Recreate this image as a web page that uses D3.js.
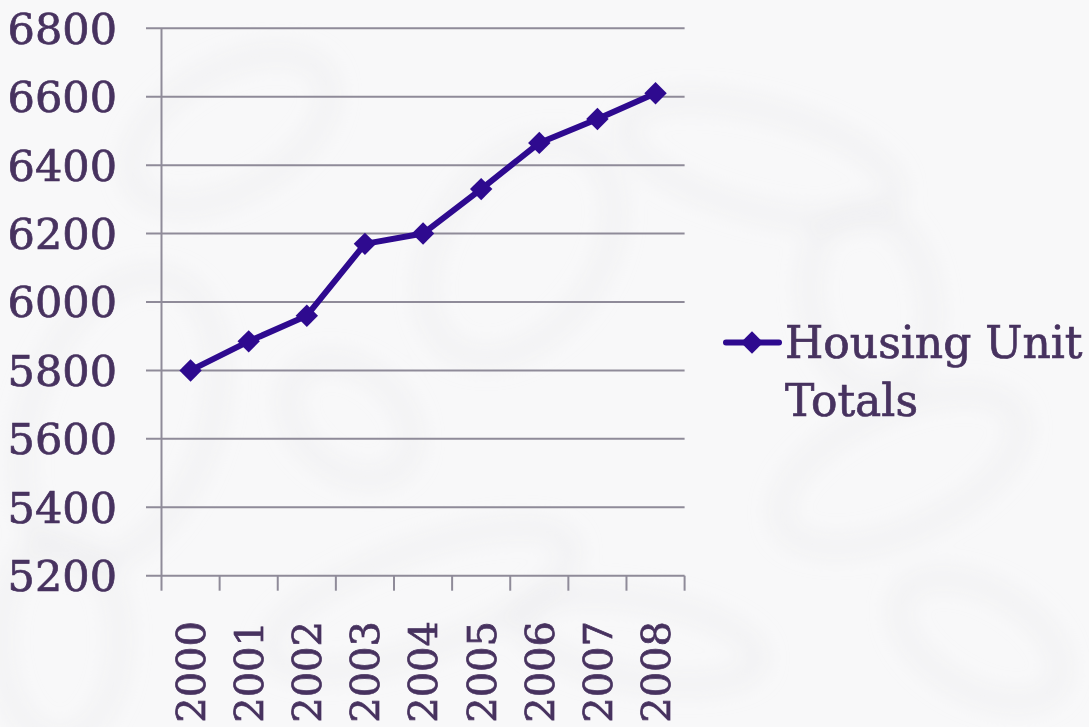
<!DOCTYPE html>
<html>
<head>
<meta charset="utf-8">
<script src="https://cdn.jsdelivr.net/npm/d3@7"></script>
<style>
  html, body { margin: 0; padding: 0; background: #f7f7f8; overflow: hidden; }
  .lbl { font-family: "DejaVu Serif", serif; fill: #47325f; stroke: #47325f; stroke-width: 0.7px; }
</style>
</head>
<body>
<div class="chart"></div>
<script>
var years = ["2000", "2001", "2002", "2003", "2004", "2005", "2006", "2007", "2008"];
var housingUnits = [5800, 5885, 5960, 6170, 6200, 6330, 6465, 6535, 6610];
var yTicks = [5200, 5400, 5600, 5800, 6000, 6200, 6400, 6600, 6800];
var seriesName = ["Housing Unit", "Totals"];

var svgWidth = 1089;
var svgHeight = 727;

var svg = d3.select(".chart")
  .append("svg")
  .attr("width", svgWidth)
  .attr("height", svgHeight);

// faint marbled background
var defs = svg.append("defs");
defs.append("filter").attr("id", "blur")
  .attr("x", "-50%").attr("y", "-50%").attr("width", "200%").attr("height", "200%")
  .append("feGaussianBlur").attr("stdDeviation", 12);

svg.append("rect")
  .attr("width", svgWidth).attr("height", svgHeight)
  .attr("fill", "#f8f8f9");

var blobs = [
  [230, 130, 110, 60, -30], [120, 420, 90, 150, 20], [420, 600, 160, 50, -20],
  [520, 250, 80, 120, 35], [760, 160, 140, 50, 15], [900, 470, 130, 60, -25],
  [640, 640, 120, 40, 10], [980, 640, 90, 50, 30], [60, 640, 60, 100, 0],
  [350, 420, 70, 50, 40], [870, 300, 60, 90, -10]
];
svg.append("g").attr("filter", "url(#blur)")
  .selectAll("ellipse")
  .data(blobs)
  .enter()
  .append("ellipse")
  .attr("transform", d => `translate(${d[0]},${d[1]}) rotate(${d[4]})`)
  .attr("rx", d => d[2])
  .attr("ry", d => d[3])
  .attr("fill", "none")
  .attr("stroke", "#e4e4e7")
  .attr("stroke-width", 10)
  .attr("opacity", 0.6);

var x = d3.scaleBand()
  .domain(years)
  .range([161.5, 684.6]);

var y = d3.scaleLinear()
  .domain([5200, 6800])
  .range([575.7, 28.3]);

var chartGroup = svg.append("g");

// gridlines
chartGroup.selectAll("line.grid")
  .data(yTicks)
  .enter()
  .append("line")
  .attr("class", "grid")
  .attr("x1", 146)
  .attr("x2", 684.6)
  .attr("y1", d => y(d))
  .attr("y2", d => y(d))
  .attr("stroke", "#8f8b99")
  .attr("stroke-width", 2);

// y axis line
chartGroup.append("line")
  .attr("x1", 161.5).attr("x2", 161.5)
  .attr("y1", y(6800)).attr("y2", y(5200))
  .attr("stroke", "#8f8b99")
  .attr("stroke-width", 2);

// x ticks at band boundaries
var bounds = years.map(d => x(d)).concat([x(years[years.length - 1]) + x.bandwidth()]);
chartGroup.selectAll("line.xtick")
  .data(bounds)
  .enter()
  .append("line")
  .attr("class", "xtick")
  .attr("x1", d => d).attr("x2", d => d)
  .attr("y1", y(5200)).attr("y2", y(5200) + 15)
  .attr("stroke", "#8f8b99")
  .attr("stroke-width", 2);

// y labels
chartGroup.selectAll("text.ylab")
  .data(yTicks)
  .enter()
  .append("text")
  .attr("class", "lbl")
  .attr("x", 117)
  .attr("y", d => y(d))
  .attr("dy", "0.36em")
  .attr("text-anchor", "end")
  .style("font-size", "43px")
  .text(d => d);

// x labels (rotated)
chartGroup.selectAll("text.xlab")
  .data(years)
  .enter()
  .append("text")
  .attr("class", "lbl")
  .attr("transform", d => `translate(${x(d) + x.bandwidth() / 2}, 621) rotate(-90)`)
  .attr("dy", "0.36em")
  .attr("text-anchor", "end")
  .style("font-size", "40px")
  .text(d => d);

// the line
var lineColor = "#2e0a8f";
var line = d3.line()
  .x((d, i) => x(years[i]) + x.bandwidth() / 2)
  .y(d => y(d));

chartGroup.append("path")
  .datum(housingUnits)
  .attr("d", line)
  .attr("fill", "none")
  .attr("stroke", lineColor)
  .attr("stroke-width", 6)
  .attr("stroke-linejoin", "round");

var diamond = d3.symbol().type(d3.symbolDiamond2).size(320);
chartGroup.selectAll("path.pt")
  .data(housingUnits)
  .enter()
  .append("path")
  .attr("class", "pt")
  .attr("transform", (d, i) => `translate(${x(years[i]) + x.bandwidth() / 2}, ${y(d)})`)
  .attr("d", diamond)
  .attr("fill", lineColor);

// legend
var legend = svg.append("g");
legend.append("line")
  .attr("x1", 726).attr("x2", 779)
  .attr("y1", 342.5).attr("y2", 342.5)
  .attr("stroke", lineColor)
  .attr("stroke-width", 6)
  .attr("stroke-linecap", "round");
legend.append("path")
  .attr("transform", "translate(752, 342.5)")
  .attr("d", diamond)
  .attr("fill", lineColor);
legend.selectAll("text")
  .data(seriesName)
  .enter()
  .append("text")
  .attr("class", "lbl")
  .attr("x", 785)
  .attr("y", (d, i) => 358 + i * 58)
  .style("font-size", "44px")
  .text(d => d);
</script>
</body>
</html>
